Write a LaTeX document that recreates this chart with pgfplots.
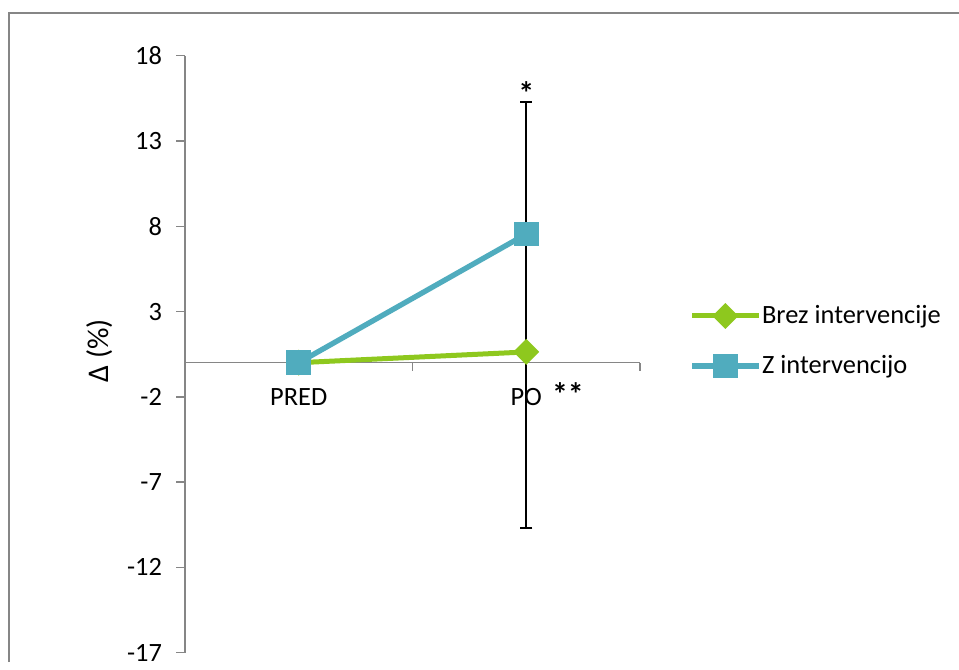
\documentclass[border=0pt]{standalone}
\usepackage{pgfplots}
\pgfplotsset{compat=1.18}
\usepackage{fontspec}
\setmainfont{Carlito}
\definecolor{limeg}{RGB}{142,200,30}
\definecolor{tealc}{RGB}{80,172,190}
\definecolor{axgray}{RGB}{134,134,134}
\begin{document}
\fontsize{19.8}{24}\selectfont
\begin{tikzpicture}
\begin{scope}[x=0.75pt,y=-0.75pt]
\useasboundingbox (0,0) rectangle (959,661);
\draw[axgray, line width=1.5pt] (9,662) -- (9,13) -- (960,13);
\end{scope}
\begin{axis}[
  at={(138.75pt,-489.5pt)}, anchor=south west,
  scale only axis, width=341.25pt, height=447.75pt,
  xmin=-0.5, xmax=1.5, ymin=-17, ymax=18,
  axis y line=left, axis x line=middle,
  axis line style={-, axgray, line width=1.1pt},
  ytick={-17,-12,-7,-2,3,8,13,18},
  yticklabels={-17,-12,-7,-2,3,8,13,18},
  tick align=outside,
  major tick length=6.75pt,
  tick style={axgray, line width=1.1pt},
  xtick={0,1}, xticklabels={PRED,PO},
  x tick style={draw=none},
  extra x ticks={0.5,1.5}, extra x tick labels={},
  extra x tick style={x tick style={draw=axgray, line width=1.1pt}, major tick length=6pt},
  xticklabel style={anchor=base, yshift=-31.7pt+6pt},
  yticklabel style={anchor=east, xshift=-3.75pt},
  /pgf/number format/assume math mode=true,
  ylabel={Δ (\%)},
  ylabel style={at={(axis description cs:-0.187,0.506)}, anchor=center, font=\fontsize{22.5}{26}\selectfont},
  clip=false,
  legend style={at={(axis description cs:1.108,0.522)}, anchor=west, draw=none, fill=none,
    inner sep=0pt, row sep=17pt, nodes={inner xsep=0.5pt, inner ysep=2pt}},
  legend cell align=left,
  legend image code/.code={\draw[mark repeat=2,mark phase=2,#1] plot coordinates {(0pt,0pt) (25pt,0pt) (50pt,0pt)};},
]
\addplot[limeg, line width=3.75pt, mark=square*, mark size=5pt, mark options={rotate=45, solid},
  error bars/.cd, y dir=both, y explicit,
  error bar style={black, line width=1.5pt}, error mark options={black, line width=1.5pt, mark size=4.5pt, rotate=90}]
  coordinates {(0,0) +- (0,0) (1,0.63) += (0,14.63) -= (0,10.34)};
\addlegendentry{Brez intervencije}
\addplot[tealc, line width=4pt, mark=square*, mark size=7.3pt, mark options={solid}]
  coordinates {(0,0) (1,7.54)};
\addlegendentry{Z intervencijo}
\node[anchor=south, inner sep=0.5pt, font=\fontsize{24}{24}\selectfont\bfseries] at (axis cs:1,15.1) {*};
\node[anchor=base west, inner sep=0pt, font=\fontsize{24}{24}\selectfont\bfseries] at (axis cs:1.112,-2.48) {**};
\end{axis}
\end{tikzpicture}
\end{document}
